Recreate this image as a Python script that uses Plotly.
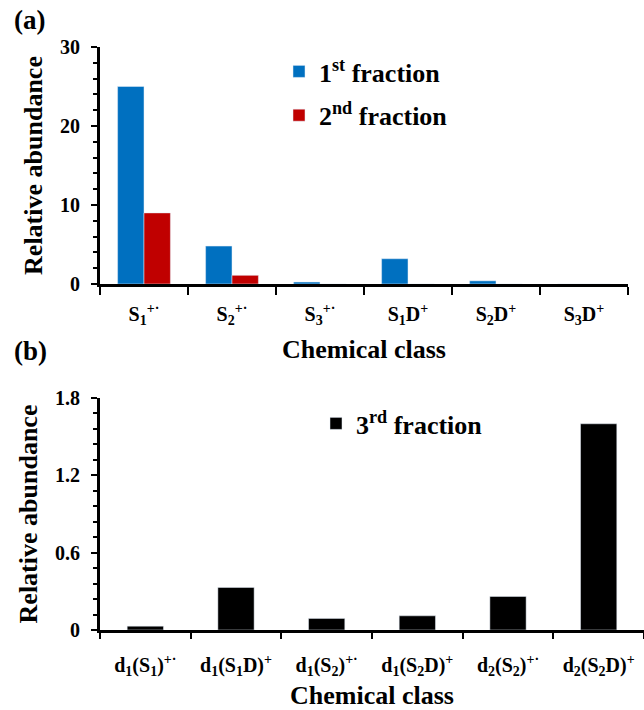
import plotly.graph_objects as go

# Panel (a)
cats_a = ["S<sub>1</sub><sup>+·</sup>", "S<sub>2</sub><sup>+·</sup>", "S<sub>3</sub><sup>+·</sup>",
          "S<sub>1</sub>D<sup>+</sup>", "S<sub>2</sub>D<sup>+</sup>", "S<sub>3</sub>D<sup>+</sup>"]
frac1 = [25.0, 4.8, 0.25, 3.2, 0.4, 0.0]
frac2 = [9.0, 1.1, 0.0, 0.0, 0.0, 0.0]

# Panel (b)
cats_b = ["d<sub>1</sub>(S<sub>1</sub>)<sup>+·</sup>", "d<sub>1</sub>(S<sub>1</sub>D)<sup>+</sup>",
          "d<sub>1</sub>(S<sub>2</sub>)<sup>+·</sup>", "d<sub>1</sub>(S<sub>2</sub>D)<sup>+</sup>",
          "d<sub>2</sub>(S<sub>2</sub>)<sup>+·</sup>", "d<sub>2</sub>(S<sub>2</sub>D)<sup>+</sup>"]
frac3 = [0.03, 0.33, 0.09, 0.11, 0.26, 1.6]

FONT = "Liberation Serif"
W, H = 644, 710

fig = go.Figure()
fig.add_trace(go.Bar(x=cats_a, y=frac1, name="1<sup>st</sup> fraction", marker_color="#0070C0",
                     xaxis="x", yaxis="y", legend="legend", legendgroup="a1"))
fig.add_trace(go.Bar(x=cats_a, y=frac2, name="2<sup>nd</sup> fraction", marker_color="#C00000",
                     xaxis="x", yaxis="y", legend="legend", legendgroup="a2"))
fig.add_trace(go.Bar(x=cats_b, y=frac3, name="3<sup>rd</sup> fraction", marker_color="#000000",
                     xaxis="x2", yaxis="y2", legend="legend2", width=0.4))

def tf(size):
    return dict(family=FONT, size=size, color="black", weight="bold")

axis_common = dict(showline=True, linecolor="black", linewidth=3, showgrid=False, zeroline=False,
                   automargin=False,
                   ticks="outside", tickcolor="black", tickwidth=2, tickfont=tf(20))

fig.update_layout(
    width=W, height=H, plot_bgcolor="white", paper_bgcolor="white",
    margin=dict(l=0, r=0, t=0, b=0, autoexpand=False),
    barmode="group", bargap=0.4, bargroupgap=0,
    font=dict(family=FONT, color="black"),
    xaxis=dict(**axis_common, domain=[100 / W, 628 / W], anchor="y", tickson="boundaries",
               ticklen=8, range=[-0.5, 5.5], ticklabelstandoff=10,
               title=dict(text="Chemical class", font=tf(26), standoff=13)),
    yaxis=dict(**axis_common, domain=[1 - 284 / H, 1 - 47 / H], anchor="x", range=[0, 30], dtick=10,
               ticklen=6, ticklabelstandoff=7,
               minor=dict(dtick=2, ticks="outside", ticklen=4, tickcolor="black", tickwidth=2),
               title=dict(text="Relative abundance", font=tf(26), standoff=10)),
    xaxis2=dict(**axis_common, domain=[100 / W, 1.0], anchor="y2", tickson="boundaries",
                ticklen=6, range=[-0.5, 5.5], ticklabelstandoff=15,
                title=dict(text="Chemical class", font=tf(26), standoff=12)),
    yaxis2=dict(**axis_common, domain=[1 - 630 / H, 1 - 398 / H], anchor="x2", range=[0, 1.8], dtick=0.6,
                ticklen=6, ticklabelstandoff=7,
                minor=dict(dtick=0.12, ticks="outside", ticklen=4, tickcolor="black", tickwidth=2),
                title=dict(text="Relative abundance", font=tf(26), standoff=10)),
    legend=dict(x=279 / W, y=1 - 48 / H, xanchor="left", yanchor="top", bgcolor="rgba(0,0,0,0)",
                font=tf(26), tracegroupgap=7, traceorder="grouped"),
    legend2=dict(x=316 / W, y=1 - 400 / H, xanchor="left", yanchor="top", bgcolor="rgba(0,0,0,0)",
                 font=tf(26)),
    annotations=[
        dict(text="(a)", x=12 / W, y=1 - 3 / H, xref="paper", yref="paper", xanchor="left", yanchor="top",
             showarrow=False, font=tf(27)),
        dict(text="(b)", x=12 / W, y=1 - 334 / H, xref="paper", yref="paper", xanchor="left", yanchor="top",
             showarrow=False, font=tf(27)),
    ],
)

fig.write_html("out.html", config={"displayModeBar": False},
               post_script="document.body.style.margin='0';document.body.style.overflow='hidden';")
